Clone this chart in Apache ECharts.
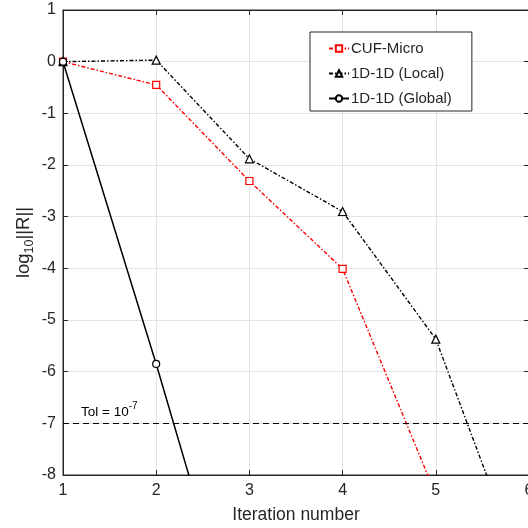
<!DOCTYPE html>
<html><head><meta charset="utf-8">
<script src="https://cdn.jsdelivr.net/npm/echarts@6/dist/echarts.min.js"></script>
<style>html,body{margin:0;padding:0;background:#fff}#c{width:528px;height:528px}</style>
</head><body><div id="c"></div>
<script>
const xCUF = [1, 2, 3, 4, 5];
const yCUF = [0, -0.45, -2.31, -4.01, -8.38];
const xLocal = [1, 2, 3, 4, 5, 6];
const yLocal = [0, 0.03, -1.88, -2.9, -5.37, -10.2];
const xGlobal = [1, 2, 3];
const yGlobal = [0, -5.85, -12.0];
const seriesNames = ['CUF-Micro', '1D-1D (Local)', '1D-1D (Global)'];
const tolerance = -7;
const xTicks = [1, 2, 3, 4, 5, 6];
const yTicks = [-8, -7, -6, -5, -4, -3, -2, -1, 0, 1];

const font = 'Liberation Sans, Arial, sans-serif';
const txt = '#262626';
const pair = (xs, ys) => xs.map((x, i) => [x, ys[i]]);

const chart = echarts.init(document.getElementById('c'));
const axisCommon = {
  axisLine: {show: true, onZero: false, lineStyle: {color: txt, width: 1}},
  axisTick: {show: true, inside: true, length: 5, lineStyle: {color: txt}},
};
chart.setOption({
  animation: false,
  textStyle: {fontFamily: font},
  grid: {left: 63, right: -1, top: 10, bottom: 53, show: true, borderColor: txt, borderWidth: 1,
         outerBoundsMode: 'none', containLabel: false},
  legend: {
    data: seriesNames,
    orient: 'vertical',
    left: 310, top: 32,
    padding: [9, 20, 5, 18],
    itemWidth: 20, itemHeight: 8, itemGap: 10,
    borderColor: '#262626', borderWidth: 1,
    backgroundColor: '#fff',
    textStyle: {fontSize: 15, color: txt, fontFamily: font, padding: [0, 0, 0, -3]}
  },
  xAxis: [{
    type: 'value', min: xTicks[0], max: xTicks[xTicks.length - 1], interval: 1,
    name: 'Iteration number', nameLocation: 'middle', nameGap: 31,
    nameTextStyle: {fontSize: 17.5, color: txt, fontFamily: font},
    axisLabel: {fontSize: 16, color: txt, margin: 8, fontFamily: font},
    splitLine: {show: true, lineStyle: {color: '#e3e3e3'}},
    ...axisCommon
  }, {
    type: 'value', position: 'top', min: xTicks[0], max: xTicks[xTicks.length - 1], interval: 1,
    axisLabel: {show: false}, splitLine: {show: false}, ...axisCommon
  }],
  yAxis: [{
    type: 'value', min: yTicks[0], max: yTicks[yTicks.length - 1], interval: 1,
    name: '{a|log}{s|10}{a|||R||}', nameLocation: 'middle', nameGap: 27, nameRotate: 90,
    nameMoveOverlap: false,
    nameTextStyle: {
      color: txt, fontFamily: font,
      rich: {
        a: {fontSize: 18.5, color: txt, fontFamily: font, lineHeight: 24, verticalAlign: 'middle'},
        s: {fontSize: 12.5, color: txt, fontFamily: font, lineHeight: 24, verticalAlign: 'bottom', padding: [10, 0, 0, 0]}
      }
    },
    axisLabel: {fontSize: 16, color: txt, margin: 7, fontFamily: font},
    splitLine: {show: true, lineStyle: {color: '#e3e3e3'}},
    ...axisCommon
  }, {
    type: 'value', position: 'right', min: yTicks[0], max: yTicks[yTicks.length - 1], interval: 1,
    axisLabel: {show: false}, splitLine: {show: false}, ...axisCommon
  }],
  series: [{
    name: seriesNames[0], type: 'line', data: pair(xCUF, yCUF),
    symbol: 'rect', symbolSize: 7, showAllSymbol: true,
    lineStyle: {color: '#ff0000', width: 1.4, type: [4, 2, 1.5, 2]},
    itemStyle: {color: '#fff', borderColor: '#ff0000', borderWidth: 1.2},
    markLine: {
      silent: true, symbol: 'none',
      lineStyle: {color: '#000', width: 1, type: [6, 4]},
      label: {
        position: 'insideStartTop', distance: [18, 4],
        formatter: '{t|Tol = 10}{p|-7}',
        rich: {
          t: {fontSize: 13.5, color: '#000', fontFamily: font, lineHeight: 18, verticalAlign: 'bottom'},
          p: {fontSize: 10, color: '#000', fontFamily: font, lineHeight: 18, verticalAlign: 'top', padding: [0, 0, 7, 0]}
        }
      },
      data: [{yAxis: tolerance}]
    }
  }, {
    name: seriesNames[1], type: 'line', data: pair(xLocal, yLocal),
    symbol: 'triangle', symbolSize: 8, showAllSymbol: true,
    lineStyle: {color: '#000', width: 1.4, type: [4, 2, 1.5, 2]},
    itemStyle: {color: '#fff', borderColor: '#000', borderWidth: 1.2}
  }, {
    name: seriesNames[2], type: 'line', data: pair(xGlobal, yGlobal),
    symbol: 'circle', symbolSize: 7, showAllSymbol: true,
    lineStyle: {color: '#000', width: 1.5, type: 'solid'},
    itemStyle: {color: '#fff', borderColor: '#000', borderWidth: 1.2}
  }]
});
</script></body></html>
